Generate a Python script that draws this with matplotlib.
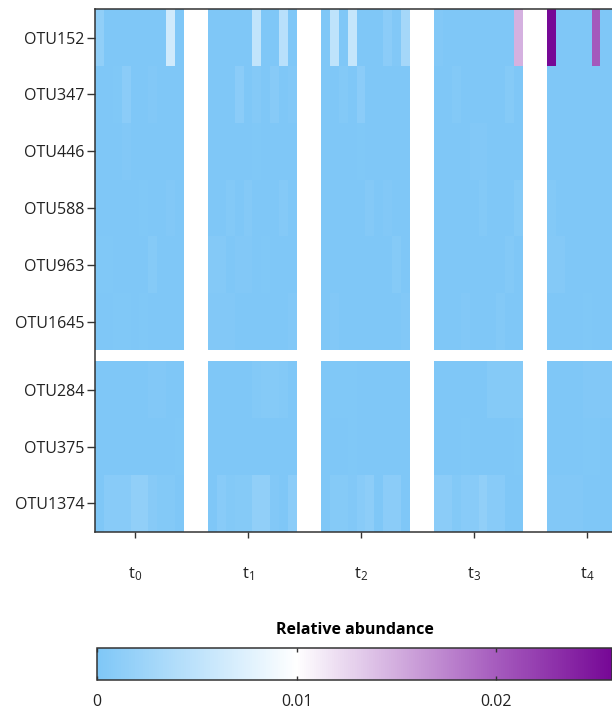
import numpy as np
import matplotlib
matplotlib.use('Agg')
import matplotlib.pyplot as plt
from matplotlib.colors import LinearSegmentedColormap

plt.rcParams['font.family'] = ['Open Sans', 'DejaVu Sans']
plt.rcParams['mathtext.fontset'] = 'custom'
plt.rcParams['mathtext.rm'] = 'Open Sans'
plt.rcParams['mathtext.it'] = 'Open Sans'
plt.rcParams['mathtext.default'] = 'regular'

# OTUs, top block then bottom block
otus_top = ['OTU152', 'OTU347', 'OTU446', 'OTU588', 'OTU963', 'OTU1645']
otus_bottom = ['OTU284', 'OTU375', 'OTU1374']
timepoints = ['$t_0$', '$t_1$', '$t_2$', '$t_3$', '$t_4$']
n_samples = 10  # samples per time point

# relative abundance per OTU, 10 samples for each of t0..t4
otu152 = [0.0015, 0, 0, 0, 0, 0, 0, 0, 0.0063, 0,
          0, 0, 0, 0, 0, 0.0052, 0, 0, 0.0045, 0,
          0, 0.005, 0, 0.0055, 0, 0, 0, 0.001, 0.0003, 0.003,
          0.0003, 0, 0, 0, 0, 0, 0, 0, 0, 0.0148,
          0.0258, 0, 0, 0, 0, 0.0202, 0, 0, 0, 0]
otu347 = [0, 0, 0.0002, 0.001, 0, 0, 0.0003, 0, 0, 0,
          0, 0, 0, 0.001, 0, 0.0005, 0, 0.0007, 0, 0.0003,
          0, 0, 0.0004, 0, 0.001, 0, 0, 0, 0, 0,
          0, 0, 0.0004, 0, 0, 0, 0, 0, 0.0006, 0,
          0, 0, 0, 0, 0, 0, 0, 0, 0, 0]
otu446 = [0, 0, 0, 0.0003, 0, 0, 0, 0, 0, 0,
          0, 0, 0, 0, 0, 0.0002, 0, 0, 0, 0,
          0, 0, 0, 0, 0.0002, 0, 0, 0, 0, 0,
          0, 0, 0, 0, 0.0003, 0.0003, 0, 0, 0, 0,
          0, 0, 0, 0, 0, 0, 0, 0, 0, 0]
otu588 = [0, 0, 0, 0, 0, 0.0002, 0, 0, 0.0003, 0,
          0, 0, 0.0004, 0, 0.0005, 0, 0, 0, 0.0005, 0,
          0, 0, 0, 0, 0, 0.0005, 0, 0.0003, 0, 0,
          0, 0, 0, 0, 0, 0.0004, 0, 0, 0, 0.0006,
          0.0004, 0, 0, 0, 0, 0, 0, 0, 0, 0]
otu963 = [0.0002, 0.0002, 0, 0, 0, 0, 0.0006, 0, 0, 0,
          0.0005, 0.0005, 0, 0.0003, 0.0003, 0, 0.0002, 0, 0, 0,
          0, 0, 0, 0, 0, 0, 0, 0, 0.0006, 0,
          0, 0, 0, 0, 0, 0, 0, 0, 0.0004, 0,
          0.0005, 0.0005, 0, 0, 0, 0, 0, 0, 0, 0]
otu1645 = [0, 0, 0.0002, 0.0002, 0, 0.0002, 0, 0, 0, 0,
           0.0003, 0.0003, 0.0003, 0, 0, 0, 0, 0, 0, 0.0003,
           0, 0.0003, 0, 0, 0, 0, 0, 0, 0, 0.0003,
           0, 0, 0, 0.0003, 0, 0, 0, 0.0004, 0, 0,
           0, 0, 0, 0, 0.0002, 0, 0, 0, 0, 0]
otu284 = [0, 0, 0, 0, 0, 0, 0.0003, 0.0003, 0, 0,
          0, 0, 0, 0, 0, 0.0004, 0.0006, 0.0006, 0.0004, 0,
          0, 0.0002, 0.0002, 0.0002, 0, 0, 0, 0, 0, 0,
          0, 0, 0, 0, 0, 0, 0.0006, 0.0006, 0.0006, 0.0006,
          0, 0, 0, 0, 0.0003, 0.0003, 0.0003, 0.0003, 0, 0]
otu375 = [0, 0, 0, 0, 0, 0, 0, 0, 0, 0.0002,
          0, 0, 0, 0, 0, 0, 0, 0, 0, 0,
          0, 0, 0, 0.0002, 0, 0, 0, 0, 0, 0,
          0, 0, 0, 0.0002, 0, 0, 0, 0, 0, 0.0002,
          0, 0, 0, 0, 0.0002, 0.0002, 0, 0, 0, 0]
otu1374 = [0, 0.0008, 0.0008, 0.0008, 0.0015, 0.0015, 0.0007, 0.0004, 0.0004, 0,
           0, 0.0008, 0.0004, 0.0006, 0.0006, 0.0015, 0.0015, 0.0003, 0, 0.001,
           0, 0.0006, 0.0006, 0.0003, 0.0008, 0.0012, 0, 0.001, 0.001, 0,
           0.001, 0.001, 0.0004, 0.0008, 0.0008, 0.0015, 0.0008, 0.0008, 0, 0,
           0.0003, 0.0003, 0.0003, 0.0003, 0, 0, 0, 0, 0, 0]

cbar_ticks = [0, 0.01, 0.02]
vmax = 0.0258

top_block = np.array([otu152, otu347, otu446, otu588, otu963, otu1645])
bottom_block = np.array([otu284, otu375, otu1374])

# blue -> white at 0.01 -> purple
cmap = LinearSegmentedColormap.from_list(
    'abund', [(0.0, '#7fc7f7'), (0.01 / vmax, '#ffffff'),
              (0.02 / vmax, '#a65cbe'), (1.0, '#760896')])

fig = plt.figure(figsize=(6.12, 7.12), dpi=100)
ax = fig.add_axes([95 / 612, 1 - 531.7 / 712, 541 / 612, 522.4 / 712])

group_step = 12.7   # columns per time point incl. white gap
row_gap = 0.2
block_edges = [(np.arange(7), top_block),
               (np.arange(4) + 6 + row_gap, bottom_block)]

for g in range(len(timepoints)):
    xe = g * group_step + np.arange(n_samples + 1)
    for ye, block in block_edges:
        vals = block[:, g * n_samples:(g + 1) * n_samples]
        mesh = ax.pcolormesh(xe, ye, vals, cmap=cmap, vmin=0, vmax=vmax,
                             shading='flat', edgecolors='none', antialiased=False)

ax.set_xlim(0, 4 * group_step + n_samples)
ax.set_ylim(9 + row_gap, 0)

ycenters = list(np.arange(6) + 0.5) + list(np.arange(3) + 6.5 + row_gap)
ax.set_yticks(ycenters)
ax.set_yticklabels(otus_top + otus_bottom, fontsize=11.5, color='#222222')
ax.set_xticks([g * group_step + 4.5 for g in range(len(timepoints))])
ax.set_xticklabels(timepoints, fontsize=12, color='#222222')
ax.tick_params(axis='y', length=6, width=1, pad=1.5, color='#333333')
ax.tick_params(axis='x', length=4.5, width=1, pad=20, color='#333333')
for side in ['left', 'top', 'bottom', 'right']:
    ax.spines[side].set_color('#333333')
    ax.spines[side].set_linewidth(1.1)

# colour bar along the bottom
cax = fig.add_axes([97 / 612, 1 - 680 / 712, 515 / 612, 31.7 / 712])
cb = fig.colorbar(mesh, cax=cax, orientation='horizontal')
cb.set_ticks(cbar_ticks)
cb.set_ticklabels(['0', '0.01', '0.02'])
cb.outline.set_edgecolor('#333333')
cb.outline.set_linewidth(1.1)
cax.tick_params(direction='in', length=3, width=1, top=True, bottom=True,
                labelsize=11.5, pad=10, color='#333333', labelcolor='#222222')
cax.set_title('Relative abundance', fontsize=11.5, fontweight='bold', pad=10)

fig.savefig('out.png', dpi=100)
